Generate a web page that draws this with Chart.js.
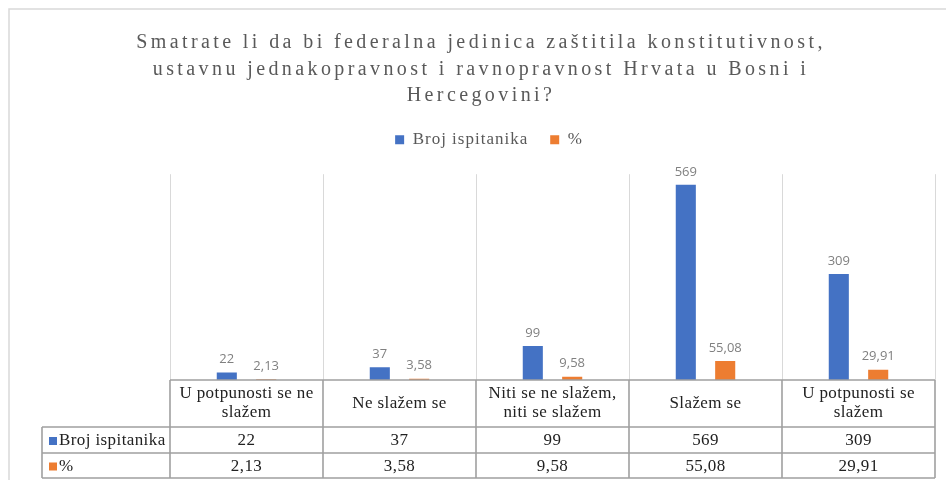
<!DOCTYPE html>
<html lang="hr">
<head>
<meta charset="utf-8">
<title>Federalna jedinica - anketa</title>
<script src="https://cdn.jsdelivr.net/npm/chart.js@4.4.1/dist/chart.umd.min.js"></script>
<style>
html, body { margin: 0; padding: 0; background: #fff; }
#wrap { width: 946px; height: 480px; position: relative; }
</style>
</head>
<body>
<div id="wrap"><canvas id="surveyChart"></canvas></div>
<script>
const titleLines = [
  "Smatrate li da bi federalna jedinica zaštitila konstitutivnost,",
  "ustavnu jednakopravnost i ravnopravnost Hrvata u Bosni i",
  "Hercegovini?"
];
const categories = [
  ["U potpunosti se ne", "slažem"],
  ["Ne slažem se"],
  ["Niti se ne slažem,", "niti se slažem"],
  ["Slažem se"],
  ["U potpunosti se", "slažem"]
];
const seriesNames = ["Broj ispitanika", "%"];
const respondents = [22, 37, 99, 569, 309];
const percents = [2.13, 3.58, 9.58, 55.08, 29.91];
const yMax = 600;

const colors = ["#4472c4", "#ed7d31"];
const serif = '"Liberation Serif", "Times New Roman", serif';

function formatValue(series, v) {
  // the % row uses a decimal comma
  return series === 1 ? v.toFixed(2).replace(".", ",") : String(v);
}

// wraps fit/draw of a layout box so its text is letter-spaced (and optionally nudged)
function spaced(box, spacing, dx) {
  if (!box || box._spaced) return;
  ["fit", "draw"].forEach(fn => {
    const orig = box[fn];
    box[fn] = function () {
      const c = this.ctx;
      c.save();
      c.letterSpacing = spacing;
      if (fn === "draw" && dx) c.translate(dx, 0);
      const r = orig.apply(this, arguments);
      c.restore();
      return r;
    };
  });
  box._spaced = true;
}

const spacingPlugin = {
  id: "spacing",
  beforeUpdate(chart) {
    spaced(chart.titleBlock, "3.4px", 0);
    spaced(chart.legend, "1px", 8);
  }
};

const framePlugin = {
  id: "frame",
  beforeDraw(chart) {
    const c = chart.ctx;
    c.save();
    c.strokeStyle = "#d9d9d9";
    c.lineWidth = 1.5;
    c.strokeRect(9, 9, chart.width + 20, chart.height + 20);
    c.restore();
  }
};

const valueLabels = {
  id: "valueLabels",
  afterDatasetsDraw(chart) {
    const c = chart.ctx;
    c.save();
    c.font = '13px "Open Sans"';
    c.fillStyle = "#808080";
    c.textAlign = "center";
    c.textBaseline = "middle";
    chart.data.datasets.forEach((ds, di) => {
      chart.getDatasetMeta(di).data.forEach((bar, i) => {
        c.fillText(formatValue(di, ds.data[i]), bar.x, bar.y - 13);
      });
    });
    c.restore();
  }
};

const dataTable = {
  id: "dataTable",
  afterDraw(chart) {
    const c = chart.ctx;
    const area = chart.chartArea;
    const xs = chart.scales.x;
    const n = categories.length;
    const step = (area.right - area.left) / n;
    const edges = [];
    for (let i = 0; i <= n; i++) edges.push(area.left + i * step);

    const top = area.bottom;
    const headBottom = top + 47;
    const rowBottoms = [headBottom + 26, headBottom + 51];
    const labelLeft = 42;

    c.save();
    c.strokeStyle = "#a0a0a0";
    c.lineWidth = 1.6;
    c.beginPath();
    c.moveTo(area.left, top); c.lineTo(area.right, top);
    [headBottom, ...rowBottoms].forEach(y => { c.moveTo(labelLeft, y); c.lineTo(area.right, y); });
    c.moveTo(labelLeft, headBottom); c.lineTo(labelLeft, rowBottoms[1]);
    edges.forEach(x => { c.moveTo(x, top); c.lineTo(x, rowBottoms[1]); });
    c.stroke();

    c.font = "17px " + serif;
    c.letterSpacing = "0.4px";
    c.fillStyle = "#222";
    c.textAlign = "center";
    c.textBaseline = "middle";

    // header row: category names
    const headMid = (top + headBottom) / 2;
    categories.forEach((lines, i) => {
      const cx = xs.getPixelForValue(i);
      const y0 = headMid - (lines.length - 1) * 19 / 2;
      lines.forEach((t, k) => c.fillText(t, cx, y0 + k * 19));
    });

    // data rows
    const rows = [respondents, percents];
    const rowTops = [headBottom, rowBottoms[0]];
    rows.forEach((vals, r) => {
      const mid = (rowTops[r] + rowBottoms[r]) / 2 + 1;
      c.textAlign = "center";
      c.fillStyle = "#222";
      vals.forEach((v, i) => c.fillText(formatValue(r, v), xs.getPixelForValue(i), mid));
      c.fillStyle = colors[r];
      c.fillRect(labelLeft + 7, mid - 4, 8, 8);
      c.fillStyle = "#222";
      c.textAlign = "left";
      c.fillText(seriesNames[r], labelLeft + 17, mid);
    });
    c.restore();
  }
};

new Chart(document.getElementById("surveyChart"), {
  type: "bar",
  data: {
    labels: categories,
    datasets: [
      { label: seriesNames[0], data: respondents, backgroundColor: colors[0] },
      { label: seriesNames[1], data: percents, backgroundColor: colors[1] }
    ]
  },
  options: {
    responsive: true,
    maintainAspectRatio: false,
    animation: false,
    datasets: {
      bar: { categoryPercentage: 0.515, barPercentage: 0.51, borderWidth: 0 }
    },
    layout: { padding: { left: 27, right: 11, top: 0, bottom: 0 } },
    plugins: {
      title: {
        display: true,
        text: titleLines,
        color: "#595959",
        font: { family: serif, size: 20, weight: "normal", lineHeight: 1.32 },
        padding: { top: 30, bottom: 0 }
      },
      legend: {
        display: true,
        labels: {
          boxWidth: 9,
          boxHeight: 9,
          padding: 22,
          color: "#595959",
          font: { family: serif, size: 17 }
        }
      },
      tooltip: { enabled: false }
    },
    scales: {
      x: {
        grid: { offset: true, color: "#d9d9d9", drawTicks: false },
        border: { display: false },
        ticks: { display: false },
        afterFit(s) { s.height = 100; }
      },
      // empty spacer axis between legend and plot
      xTop: {
        type: "category",
        axis: "x",
        position: "top",
        grid: { display: false },
        border: { display: false },
        ticks: { display: false },
        afterFit(s) { s.height = 16; }
      },
      y: {
        min: 0,
        max: yMax,
        grid: { display: false },
        border: { display: false },
        ticks: { display: false },
        afterFit(s) { s.width = 143; }
      }
    }
  },
  plugins: [spacingPlugin, framePlugin, valueLabels, dataTable]
});
</script>
</body>
</html>
